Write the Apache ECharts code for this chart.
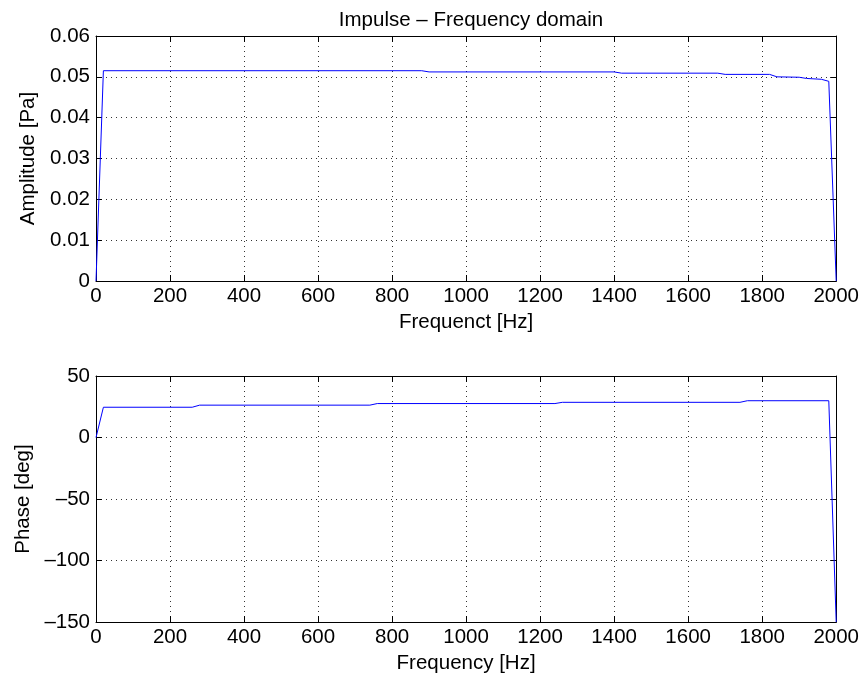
<!DOCTYPE html>
<html>
<head>
<meta charset="utf-8">
<script src="https://cdn.jsdelivr.net/npm/echarts@6/dist/echarts.min.js"></script>
<style>html,body{margin:0;padding:0;background:#fff}#c{width:862px;height:682px}</style>
</head>
<body>
<div id="c"></div>
<script>
// ---- data ----
var ampFreq  = [0, 20, 880, 900, 1400, 1420, 1680, 1700, 1820, 1840, 1900, 1920, 1960, 1980, 2000];
var ampValue = [0, 0.0515, 0.0515, 0.0512, 0.0512, 0.0509, 0.0509, 0.0506, 0.0506, 0.0500, 0.0499, 0.0496, 0.0494, 0.0489, 0];
var phaseFreq  = [0, 20, 260, 280, 740, 760, 1240, 1260, 1740, 1760, 1980, 2000];
var phaseValue = [0, 24.6, 24.6, 26.3, 26.3, 27.6, 27.6, 28.6, 28.6, 29.9, 29.9, -150];
var xTicks = [0, 200, 400, 600, 800, 1000, 1200, 1400, 1600, 1800, 2000];
var ampTicks = [0, 0.01, 0.02, 0.03, 0.04, 0.05, 0.06];
var phaseTicks = [-150, -100, -50, 0, 50];
var titleText = 'Impulse \u2013 Frequency domain';

function pairs(xs, ys){ var o=[]; for (var i=0;i<xs.length;i++) o.push([xs[i], ys[i]]); return o; }

var FONT = 'Liberation Sans, Arial, Helvetica, sans-serif';
var FS = 20.5;
var gridLine = {show:true, lineStyle:{color:'#333', type:[1,4], width:1}};

function xAxisMain(gi, name){
  return {type:'value', gridIndex:gi, min:xTicks[0], max:xTicks[xTicks.length-1], interval:xTicks[1]-xTicks[0],
    name:name, nameLocation:'middle', nameGap:31, nameTextStyle:{color:'#000', fontSize:FS, fontFamily:FONT},
    axisLine:{show:true, onZero:false, lineStyle:{color:'#000', width:1}},
    axisTick:{show:true, inside:true, length:6, lineStyle:{color:'#000'}},
    axisLabel:{show:true, margin:5, color:'#000', fontSize:FS, fontFamily:FONT, formatter:function(v){ return String(v); }},
    splitLine:gridLine};
}
function xAxisTop(gi){
  return {type:'value', gridIndex:gi, position:'top', min:xTicks[0], max:xTicks[xTicks.length-1], interval:xTicks[1]-xTicks[0],
    axisLine:{show:true, onZero:false, lineStyle:{color:'#000', width:1}},
    axisTick:{show:true, inside:true, length:6, lineStyle:{color:'#000'}},
    axisLabel:{show:false}, splitLine:{show:false}};
}
function fmtMinus(v){ return String(v).replace('-', '\u2013'); }
function yAxisMain(gi, ticks, name, gap){
  return {type:'value', gridIndex:gi, min:ticks[0], max:ticks[ticks.length-1], interval:ticks[1]-ticks[0],
    name:name, nameLocation:'middle', nameGap:gap, nameRotate:90, nameTextStyle:{color:'#000', fontSize:FS, fontFamily:FONT},
    axisLine:{show:true, onZero:false, lineStyle:{color:'#000', width:1}},
    axisTick:{show:true, inside:true, length:6, lineStyle:{color:'#000'}},
    axisLabel:{show:true, margin:6, color:'#000', fontSize:FS, fontFamily:FONT, formatter:function(v){ return fmtMinus(+v.toFixed(4)); }},
    splitLine:gridLine};
}
function yAxisRight(gi, ticks){
  return {type:'value', gridIndex:gi, position:'right', min:ticks[0], max:ticks[ticks.length-1], interval:ticks[1]-ticks[0],
    axisLine:{show:true, onZero:false, lineStyle:{color:'#000', width:1}},
    axisTick:{show:true, inside:true, length:6, lineStyle:{color:'#000'}},
    axisLabel:{show:false}, splitLine:{show:false}};
}

var chart = echarts.init(document.getElementById('c'), null, {renderer:'canvas'});
chart.setOption({
  animation:false,
  backgroundColor:'#fff',
  title:{text:titleText, left:466, top:5, textAlign:'center', textStyle:{color:'#000', fontSize:FS, fontWeight:'normal', fontFamily:FONT}},
  grid:[
    {left:96, top:36, width:741, height:245},
    {left:96, top:376, width:741, height:246}
  ],
  xAxis:[xAxisMain(0,'Frequenct [Hz]'), xAxisTop(0), xAxisMain(1,'Frequency [Hz]'), xAxisTop(1)],
  yAxis:[yAxisMain(0, ampTicks, 'Amplitude [Pa]', 52), yAxisRight(0, ampTicks), yAxisMain(1, phaseTicks, 'Phase [deg]', 58), yAxisRight(1, phaseTicks)],
  series:[
    {type:'line', xAxisIndex:0, yAxisIndex:0, data:pairs(ampFreq, ampValue), showSymbol:false, lineStyle:{color:'#0000ff', width:1}, itemStyle:{color:'#0000ff'}},
    {type:'line', xAxisIndex:2, yAxisIndex:2, data:pairs(phaseFreq, phaseValue), showSymbol:false, lineStyle:{color:'#0000ff', width:1}, itemStyle:{color:'#0000ff'}}
  ]
});
</script>
</body>
</html>
